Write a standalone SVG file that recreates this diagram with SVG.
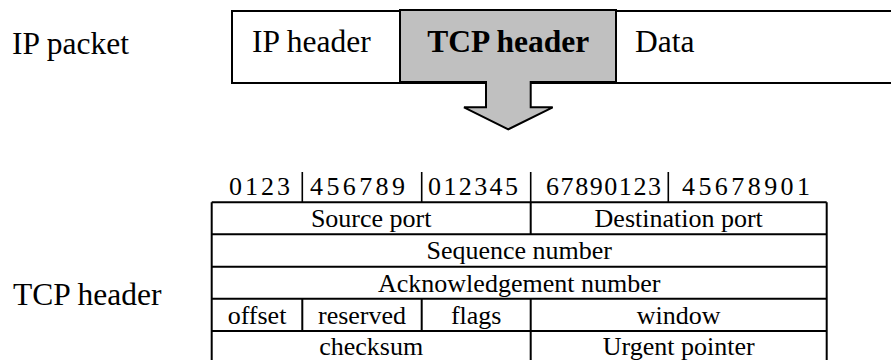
<svg xmlns="http://www.w3.org/2000/svg" width="891" height="360" viewBox="0 0 891 360">
  <style>
    .lbl { font-family: 'Liberation Serif', 'Times New Roman', serif; font-size: 31.5px; fill: #000; }
    .bold { font-weight: bold; }
    .cell { font-family: 'Liberation Serif', 'Times New Roman', serif; font-size: 26px; fill: #000; text-anchor: middle; }
    .num { font-family: 'Liberation Serif', 'Times New Roman', serif; font-size: 26px; fill: #000; }
    .ln { stroke: #000; stroke-width: 2; fill: none; }
    .thin { stroke: #000; stroke-width: 1.6; fill: none; }
  </style>
  <rect width="891" height="360" fill="#fff"/>

  <!-- left-hand captions -->
  <text class="lbl" x="12" y="53.5">IP packet</text>
  <text class="lbl" x="13" y="305">TCP header</text>

  <!-- IP packet strip: the box runs on past the right edge -->
  <g id="ip-packet">
    <rect x="232" y="11" width="670" height="72" fill="#fff" stroke="#000" stroke-width="2"/>
    <text class="lbl" x="252" y="51.7">IP header</text>
  </g>
  <!-- highlighted TCP segment with its down-pointing callout arrow -->
  <g id="tcp-segment">
    <path d="M400,10 H616 V82 H530.7 V107.3 H552.7 L508.3,129.3 L464,107.3 H486 V82 H400 Z" fill="#c0c0c0" stroke="#000" stroke-width="2"/>
    <text class="lbl bold" x="508.3" y="51.7" text-anchor="middle">TCP header</text>
  </g>
  <g id="data">
    <text class="lbl" x="635" y="51.7">Data</text>
  </g>

  <!-- bit numbering above the header table -->
  <g id="bit-ruler">
    <text class="num" x="229" y="195" textLength="61" lengthAdjust="spacing">0123</text>
    <text class="num" x="310" y="195" textLength="95" lengthAdjust="spacing">456789</text>
    <text class="num" x="428" y="195" textLength="90" lengthAdjust="spacing">012345</text>
    <text class="num" x="546" y="195" textLength="115" lengthAdjust="spacing">67890123</text>
    <text class="num" x="682" y="195" textLength="128" lengthAdjust="spacing">45678901</text>
    <path class="thin" d="M302.3,172 V202.3 M421.7,172 V202.3 M530.7,172 V202.3 M668.3,172 V202.3"/>
  </g>

  <!-- TCP header fields; the last row runs past the bottom edge -->
  <g id="tcp-table">
    <path class="ln" d="M211.7,202.3 H826.7 M211.7,234.3 H826.7 M211.7,266.7 H826.7 M211.7,298.7 H826.7 M211.7,331 H826.7 M211.7,363 H826.7"/>
    <path class="ln" d="M211.7,202.3 V363 M826.7,202.3 V363"/>
    <path class="ln" d="M530.7,202.3 V234.3 M302.3,298.7 V331 M421.7,298.7 V331 M530.7,298.7 V363"/>
    <text class="cell" x="371.2" y="227">Source port</text>
    <text class="cell" x="678.7" y="227">Destination port</text>
    <text class="cell" x="519.2" y="259">Sequence number</text>
    <text class="cell" x="519.2" y="291.5">Acknowledgement number</text>
    <text class="cell" x="257" y="323.5">offset</text>
    <text class="cell" x="362" y="323.5">reserved</text>
    <text class="cell" x="476.2" y="323.5">flags</text>
    <text class="cell" x="678.7" y="323.5">window</text>
    <text class="cell" x="371.2" y="355">checksum</text>
    <text class="cell" x="678.7" y="355">Urgent pointer</text>
  </g>
</svg>
